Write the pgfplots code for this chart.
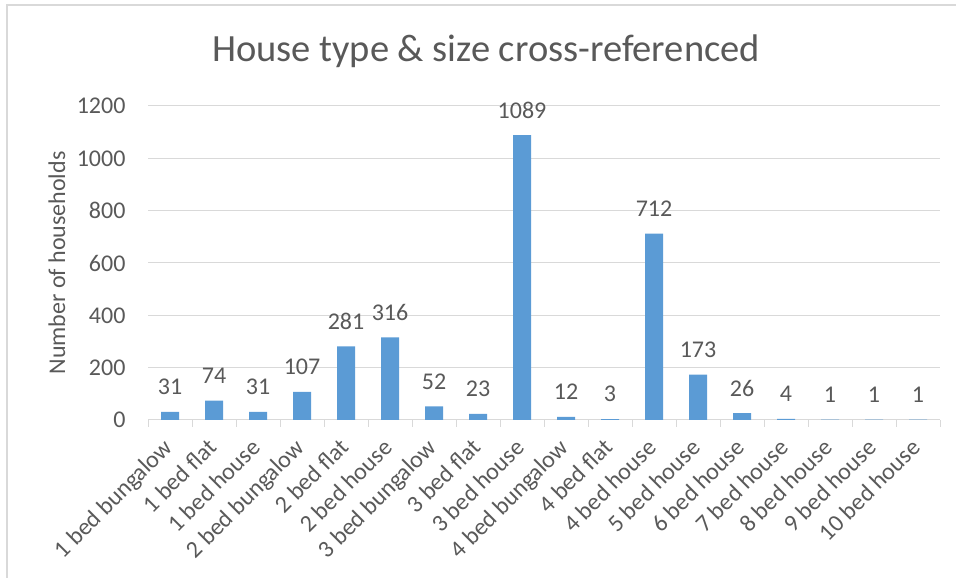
\documentclass[border=0pt]{standalone}
\usepackage{fontspec}
\setmainfont{Carlito}
\usepackage{pgfplots}
\pgfplotsset{compat=1.18}
\definecolor{barblue}{HTML}{5B9BD5}
\definecolor{txtgray}{HTML}{595959}
\definecolor{gridgray}{HTML}{D9D9D9}
\begin{document}
\begin{tikzpicture}
\useasboundingbox (0pt,0pt) rectangle (956pt,578pt);
\draw[gridgray, line width=2pt] (7pt,0pt) -- (7pt,573pt) -- (956pt,573pt);
\node[txtgray, font=\fontsize{38.5}{46}\selectfont] at (486pt,527pt) {House type \& size cross-referenced};
\begin{axis}[
  at={(148pt,158pt)}, anchor=south west,
  scale only axis, width=792pt, height=314pt,
  xmin=-0.5, xmax=17.5, ymin=0, ymax=1200,
  ytick={0,200,...,1200},
  xtick={-0.5,0.5,...,17.5},
  x tick label as interval,
  xticklabels={1 bed bungalow,1 bed flat,1 bed house,2 bed bungalow,2 bed flat,2 bed house,3 bed bungalow,3 bed flat,3 bed house,4 bed bungalow,4 bed flat,4 bed house,5 bed house,6 bed house,7 bed house,8 bed house,9 bed house,10 bed house},
  axis x line=bottom, axis y line=left,
  x axis line style={gridgray, line width=1pt, -},
  y axis line style={draw=none},
  ytick style={draw=none},
  xtick style={gridgray, line width=1pt},
  tick align=outside, major tick length=7pt,
  ymajorgrids, major grid style={gridgray, line width=1pt},
  ticklabel style={txtgray, font=\fontsize{24}{28}\selectfont},
  yticklabel style={xshift=-12pt},
  xticklabel style={xshift=-8pt, yshift=-10pt, rotate=45, anchor=north east, inner sep=0pt},
  ylabel={Number of households},
  ylabel style={txtgray, font=\fontsize{24}{28}\selectfont, at={(axis description cs:-0.115,0.5)}, anchor=center},
  /pgf/number format/.cd, 1000 sep={}, assume math mode=true, /pgfplots/.cd,
  ybar, bar width=18pt,
  nodes near coords,
  every node near coord/.append style={txtgray, font=\fontsize{24}{28}\selectfont, anchor=center, yshift=25pt},
]
\addplot[fill=barblue, draw=none] coordinates {
(0,31) (1,74) (2,31) (3,107) (4,281) (5,316) (6,52) (7,23) (8,1089)
(9,12) (10,3) (11,712) (12,173) (13,26) (14,4) (15,1) (16,1) (17,1)};
\end{axis}
\end{tikzpicture}
\end{document}
